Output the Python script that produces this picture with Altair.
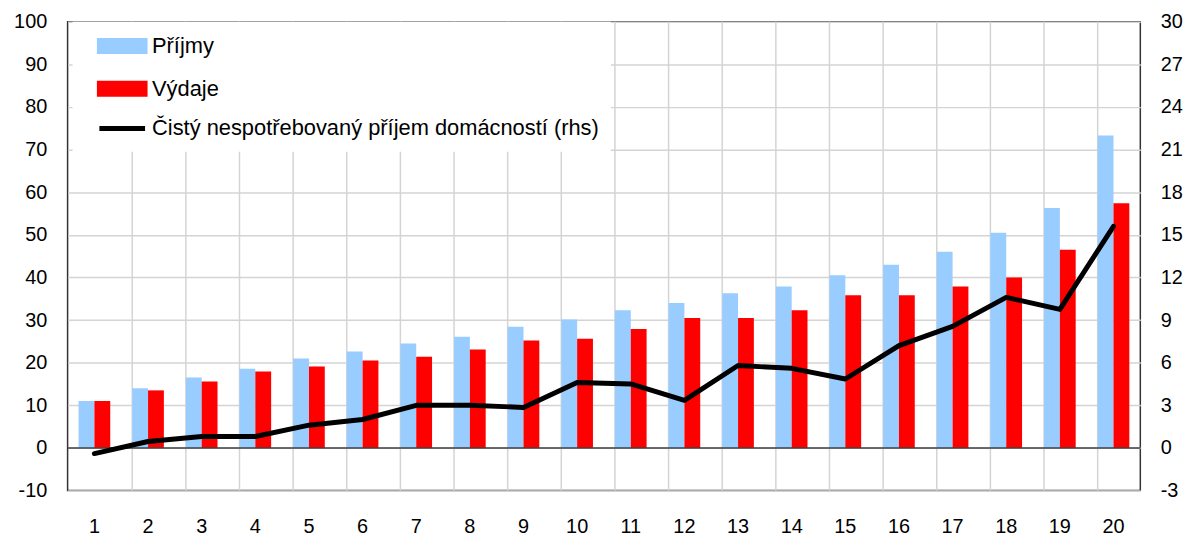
import altair as alt
import pandas as pd

categories = list(range(1, 21))
prijmy = [11.0, 14.0, 16.5, 18.6, 21.0, 22.6, 24.5, 26.1, 28.4, 30.1,
          32.3, 34.0, 36.3, 37.9, 40.5, 43.0, 46.0, 50.5, 56.3, 73.3]
vydaje = [11.0, 13.5, 15.6, 17.9, 19.1, 20.5, 21.4, 23.1, 25.2, 25.6,
          27.9, 30.5, 30.5, 32.3, 35.8, 35.8, 37.9, 40.0, 46.5, 57.4]
cisty = [-0.4, 0.45, 0.8, 0.8, 1.6, 2.0, 3.0, 3.0, 2.85, 4.6,
         4.5, 3.35, 5.8, 5.6, 4.85, 7.2, 8.55, 10.6, 9.75, 15.6]

S1 = "Příjmy"
S2 = "Výdaje"
S3 = "Čistý nespotřebovaný příjem domácností (rhs)"
left_ticks = list(range(-10, 101, 10))
right_ticks = list(range(-3, 31, 3))

FONT = "Liberation Sans"
W, H = 1080, 472

bars_df = pd.DataFrame(
    [{"cat": c, "series": S1, "value": v} for c, v in zip(categories, prijmy)]
    + [{"cat": c, "series": S2, "value": v} for c, v in zip(categories, vydaje)]
)
line_df = pd.DataFrame({"cat": categories, "series": S3, "value": cisty})
grid_df = pd.DataFrame({"cat": categories[1:]})
zero_df = pd.DataFrame({"value": [0]})

xscale = alt.Scale(paddingInner=0.41, paddingOuter=0.205)
color_scale = alt.Scale(domain=[S1, S2, S3], range=["#99ccff", "#ff0000", "#000000"])

shape_expr = (
    f"datum.value == '{S3}' ? 'M0.25,0H4.85' : 'M0.25,-0.55H4.85V0.55H0.25Z'"
)
legend = alt.Legend(
    title=None, orient="none", legendX=5, legendY=0,
    fillColor="white", padding=12,
    symbolType=alt.ExprRef(expr=shape_expr), symbolSize=400,
    symbolStrokeWidth=5, labelOffset=43, rowPadding=12,
    labelFont=FONT, labelFontSize=22, labelColor="black", labelLimit=0,
)

x_axis = alt.Axis(labelAngle=0, ticks=False, domain=False, grid=False,
                  labelPadding=26, labelFont=FONT, labelFontSize=20,
                  labelColor="black")
x_enc = alt.X("cat:O", scale=xscale, title=None, axis=x_axis)

vgrid = alt.Chart(grid_df).mark_rule(color="#d4d4d4", strokeWidth=1.5).encode(
    x=alt.X("cat:O", bandPosition=0, scale=xscale, title=None, axis=x_axis),
    y=alt.value(0), y2=alt.value(H),
)

bars = alt.Chart(bars_df).mark_bar().encode(
    x=x_enc,
    xOffset=alt.XOffset("series:N", sort=[S1, S2]),
    y=alt.Y("value:Q", scale=alt.Scale(domain=[-10, 100], nice=False), title=None,
            axis=alt.Axis(orient="left", values=left_ticks, grid=True,
                          gridColor="#d4d4d4", gridWidth=1.5, ticks=False,
                          domain=False, labelPadding=21, labelFont=FONT,
                          labelFontSize=20, labelColor="black",
                          labelExpr="'' + datum.value")),
    color=alt.Color("series:N", scale=color_scale, legend=legend),
)

zero = alt.Chart(zero_df).mark_rule(color="#404040", strokeWidth=1.5).encode(
    y=alt.Y("value:Q")
)

line = alt.Chart(line_df).mark_line(strokeWidth=5, strokeCap="round",
                                    strokeJoin="round").encode(
    x=x_enc,
    y=alt.Y("value:Q", scale=alt.Scale(domain=[-3, 30], nice=False), title=None,
            axis=alt.Axis(orient="right", values=right_ticks, grid=False,
                          ticks=False, domain=False, labelPadding=20,
                          labelFont=FONT, labelFontSize=20, labelColor="black",
                          labelExpr="'' + datum.value")),
    color=alt.Color("series:N", scale=color_scale, legend=legend),
)

chart = alt.layer(vgrid, alt.layer(bars, zero), line).resolve_scale(
    y="independent"
).properties(
    width=W, height=H,
    autosize=alt.AutoSizeParams(type="none"),
    padding={"left": 60, "top": 12, "right": 47, "bottom": 47},
).configure_view(stroke="#333333", strokeWidth=1.5)

chart.save("out.html", embed_options={"renderer": "svg", "actions": False})
